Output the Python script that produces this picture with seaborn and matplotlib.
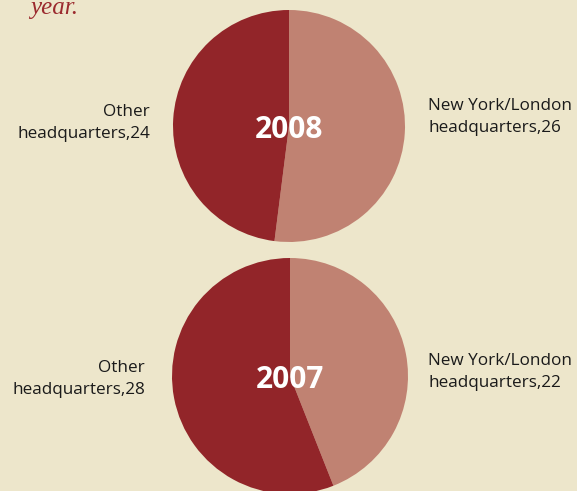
import matplotlib
matplotlib.use("Agg")
import matplotlib.pyplot as plt
import seaborn as sns

# data
years = ["2008", "2007"]
ny_london = [26, 22]
other_hq = [24, 28]
slice_names = ["New York/London\nheadquarters", "Other\nheadquarters"]

bg = "#EDE6CB"
slice_colors = sns.color_palette(["#C08272", "#922529"])

sns.set_style("white")
plt.rcParams["font.family"] = ["Open Sans", "DejaVu Sans"]

W, H = 577, 491
fig = plt.figure(figsize=(W / 100, H / 100), dpi=100, facecolor=bg)
ax = fig.add_axes([0, 0, 1, 1])
ax.set_facecolor(bg)

# pie centres / radii in pixel units (y measured from bottom)
centers = [(289, H - 126), (290, H - 376)]
radii = [116, 118]
# vertical centre of the NY label block and of the Other label block (pixels from top)
label_y = [(117, 123), (372, 379)]
other_right = [150, 145]

for i, yr in enumerate(years):
    ax.pie([ny_london[i], other_hq[i]], colors=slice_colors, startangle=90,
           counterclock=False, center=centers[i], radius=radii[i],
           wedgeprops=dict(linewidth=0), frame=True)
    cx, cy = centers[i]
    ax.text(cx, cy - 4, yr, color="white", fontsize=21.5, fontweight="bold",
            ha="center", va="center")
    ny_c, ot_c = label_y[i]
    ax.text(428, H - ny_c, f"{slice_names[0]},{ny_london[i]}",
            ha="left", va="center", fontsize=12.3, color="#1a1a1a", linespacing=1.5)
    ax.text(other_right[i], H - ot_c, f"{slice_names[1]},{other_hq[i]}",
            ha="right", va="center", fontsize=12.3, color="#1a1a1a", linespacing=1.5,
            multialignment="right")

ax.text(30, H - 14, "year.", fontsize=18, style="italic", color="#9B2A2E",
        family="Liberation Serif", ha="left", va="baseline")

ax.set_xlim(0, W)
ax.set_ylim(0, H)
ax.set_aspect("equal")
ax.axis("off")

fig.savefig("out.png", dpi=100, facecolor=bg)
